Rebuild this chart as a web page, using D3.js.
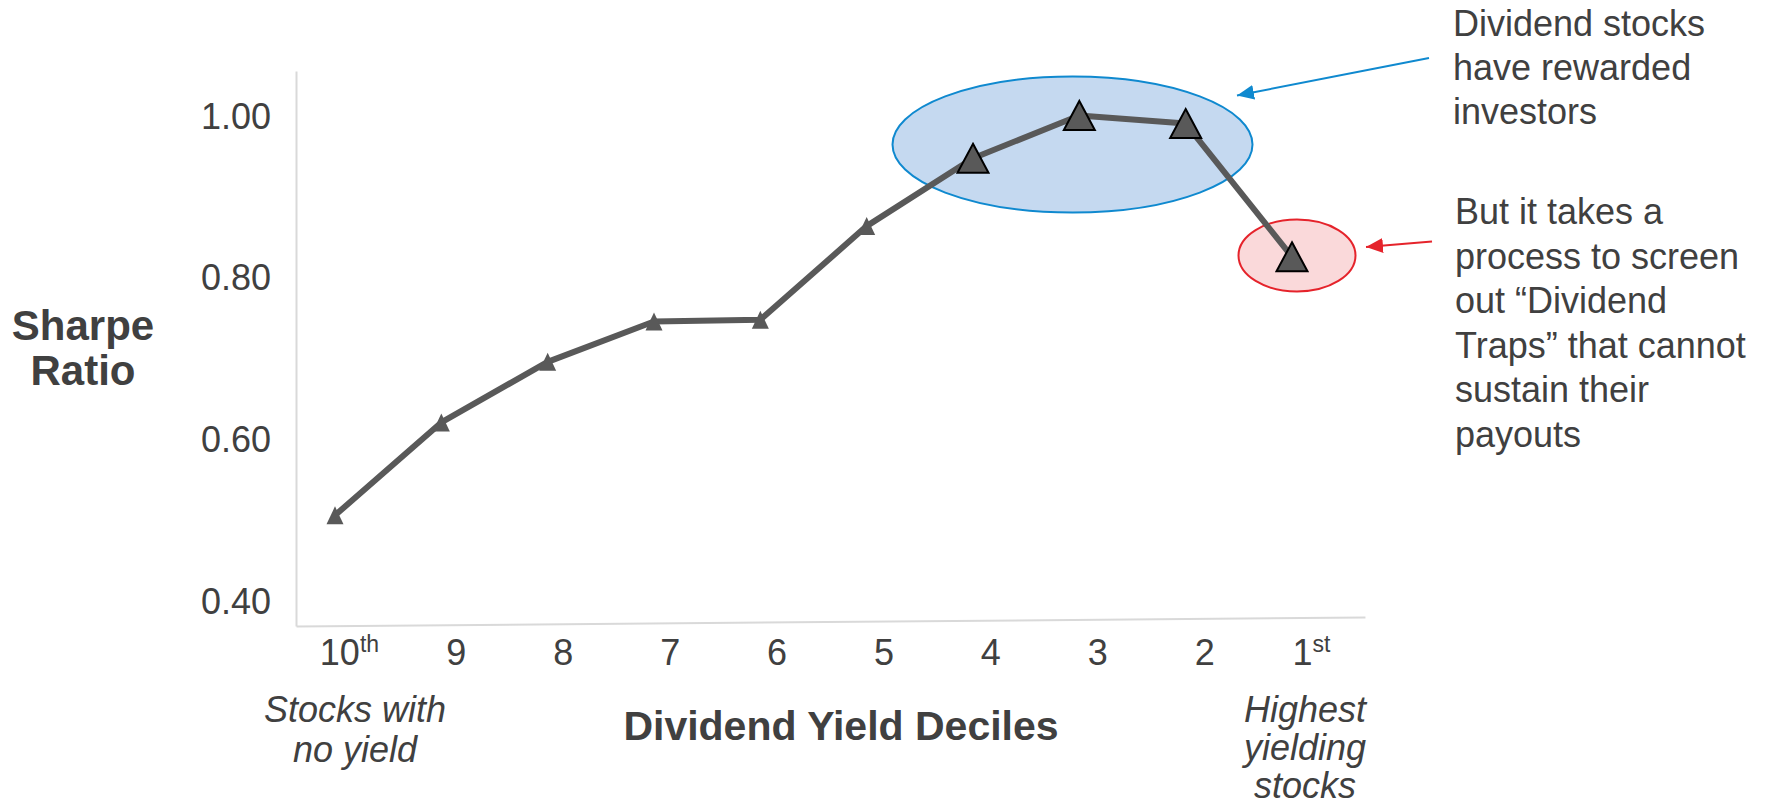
<!DOCTYPE html>
<html>
<head>
<meta charset="utf-8">
<script src="https://cdn.jsdelivr.net/npm/d3@7"></script>
<style>
  body { margin: 0; background: #fff; }
  svg { display: block; }
  text { font-family: "Liberation Sans", Arial, Helvetica, sans-serif; fill: #404040; }
</style>
</head>
<body>
<svg id="chart" width="1776" height="806"></svg>
<script>
// Sharpe ratio by dividend-yield decile (10th = no yield, 1st = highest yield)
const deciles = ["10", "9", "8", "7", "6", "5", "4", "3", "2", "1"];
const tickSuffix = ["th", "", "", "", "", "", "", "", "", "st"];
const sharpe = [0.505, 0.620, 0.695, 0.745, 0.747, 0.863, 0.947, 1.000, 0.990, 0.825];
const bigMarkers = ["4", "3", "2", "1"];
const yTicks = [0.40, 0.60, 0.80, 1.00];
const yDomain = [0.368, 1.055];

const noteTop = ["Dividend stocks", "have rewarded", "investors"];
const noteBottom = ["But it takes a", "process to screen", "out \u201CDividend", "Traps\u201D that cannot", "sustain their", "payouts"];
const leftCaption = ["Stocks with", "no yield"];
const rightCaption = ["Highest", "yielding", "stocks"];

const svg = d3.select("#chart");
const W = 1776, H = 806;
svg.append("rect").attr("width", W).attr("height", H).attr("fill", "#fff");

const plot = { left: 296, right: 1365, top: 71, bottom: 626 };

const y = d3.scaleLinear().domain(yDomain).range([plot.bottom, plot.top]);
const xBand = d3.scaleBand().domain(deciles).range([plot.left, plot.right]).padding(0);
const xPt = d3.scalePoint().domain(deciles).range([335, 1292]);

const data = deciles.map((d, i) => ({ decile: d, value: sharpe[i], big: bigMarkers.includes(d) }));

// Arrowheads
const defs = svg.append("defs");
[["arrowBlue", "#0F89CF"], ["arrowRed", "#E5232B"]].forEach(([id, c]) => {
  defs.append("marker")
    .attr("id", id)
    .attr("markerUnits", "userSpaceOnUse")
    .attr("markerWidth", 18).attr("markerHeight", 16)
    .attr("refX", 17).attr("refY", 7.5)
    .attr("orient", "auto")
    .append("path")
    .attr("d", "M0,0 L17,7.5 L0,15 Z")
    .attr("fill", c);
});

// Highlight ellipses
svg.append("ellipse")
  .attr("cx", 1072.5).attr("cy", 144.5).attr("rx", 180).attr("ry", 68)
  .attr("fill", "#C5D9F0").attr("stroke", "#0F89CF").attr("stroke-width", 2);
svg.append("ellipse")
  .attr("cx", 1297).attr("cy", 255.5).attr("rx", 58.5).attr("ry", 36)
  .attr("fill", "#FAD9DA").attr("stroke", "#E5232B").attr("stroke-width", 2);

// Y axis
const yAxis = svg.append("g")
  .attr("transform", `translate(${plot.left},0)`)
  .call(d3.axisLeft(y).tickValues(yTicks).tickFormat(d3.format(".2f")).tickSize(0).tickSizeOuter(0).tickPadding(25));
yAxis.select(".domain").attr("stroke", "#D9D9D9").attr("stroke-width", 2);
yAxis.selectAll(".tick text")
  .attr("font-size", 36).attr("fill", "#404040")
  .style("font-family", "'Liberation Sans', Arial, sans-serif")
  .attr("dy", "0.36em");

// X axis baseline (slightly tilted)
const xAxis = svg.append("g")
  .attr("transform", `translate(0,${y(yDomain[0])})`)
  .call(d3.axisBottom(xBand).tickSize(0).tickSizeOuter(0).tickFormat(""));
const tilt = Math.atan2(-9, plot.right - plot.left) * 180 / Math.PI;
xAxis.select(".domain")
  .attr("stroke", "#D9D9D9").attr("stroke-width", 2)
  .attr("transform", `rotate(${tilt},${plot.left},0)`);
xAxis.selectAll(".tick").remove();

// X tick labels with ordinal suffixes
const xt = svg.append("g").selectAll("text")
  .data(deciles)
  .join("text")
  .attr("x", d => xBand(d) + xBand.bandwidth() / 2)
  .attr("y", 665)
  .attr("text-anchor", "middle")
  .attr("font-size", 36);
xt.append("tspan").text(d => d);
xt.filter((d, i) => tickSuffix[i] !== "")
  .append("tspan")
  .attr("font-size", 23)
  .attr("dy", -13)
  .text((d) => tickSuffix[deciles.indexOf(d)]);

// Series line
const line = d3.line().x(d => xPt(d.decile)).y(d => y(d.value));
svg.append("path")
  .datum(data)
  .attr("d", line)
  .attr("fill", "none")
  .attr("stroke", "#595959")
  .attr("stroke-width", 6)
  .attr("stroke-linejoin", "round");

// Triangle markers (bounding box centred on the point)
const tri = (w, h) => `M0,${-h / 2}L${w / 2},${h / 2}L${-w / 2},${h / 2}Z`;
svg.append("g").selectAll("path")
  .data(data)
  .join("path")
  .attr("transform", d => `translate(${xPt(d.decile)},${y(d.value)})`)
  .attr("d", d => d.big ? tri(31, 29) : tri(17, 18))
  .attr("fill", "#595959")
  .attr("stroke", d => d.big ? "#000" : "none")
  .attr("stroke-width", 2)
  .attr("stroke-linejoin", "miter");

// Callout arrows
svg.append("line")
  .attr("x1", 1429).attr("y1", 58).attr("x2", 1237).attr("y2", 95.5)
  .attr("stroke", "#0F89CF").attr("stroke-width", 2)
  .attr("marker-end", "url(#arrowBlue)");
svg.append("line")
  .attr("x1", 1432).attr("y1", 241.5).attr("x2", 1366).attr("y2", 247)
  .attr("stroke", "#E5232B").attr("stroke-width", 2)
  .attr("marker-end", "url(#arrowRed)");

// Callout text
function block(lines, x, y0, lh, size, anchor, style, weight) {
  const t = svg.append("text")
    .attr("x", x).attr("y", y0)
    .attr("font-size", size)
    .attr("text-anchor", anchor || "start")
    .attr("font-style", style || "normal")
    .attr("font-weight", weight || "normal");
  lines.forEach((s, i) => {
    t.append("tspan").attr("x", x).attr("y", y0 + i * lh).text(s);
  });
  return t;
}
block(noteTop, 1453, 36, 44, 36);
block(noteBottom, 1455, 224, 44.6, 36);

// Axis titles
block(["Sharpe", "Ratio"], 83, 340, 45, 42, "middle", "normal", "bold");
block(["Dividend Yield Deciles"], 841, 740, 0, 41, "middle", "normal", "bold");

// End captions
block(leftCaption, 355, 722, 40, 36, "middle", "italic");
block(rightCaption, 1305, 722, 38, 36, "middle", "italic");
</script>
</body>
</html>
